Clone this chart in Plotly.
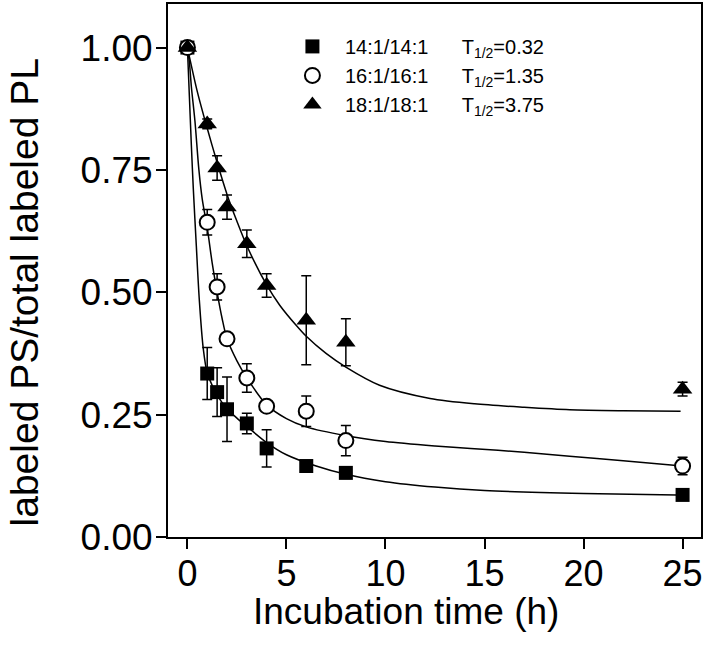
import plotly.graph_objects as go

time_h = [0, 1, 1.5, 2, 3, 4, 6, 8, 25]

ps_14 = [1.00, 0.334, 0.296, 0.261, 0.232, 0.181, 0.145, 0.131, 0.086]
err_14 = [0.0, 0.053, 0.050, 0.066, 0.021, 0.038, 0.006, 0.006, 0.006]

ps_16 = [1.00, 0.643, 0.511, 0.405, 0.325, 0.267, 0.257, 0.197, 0.145]
err_16 = [0.0, 0.026, 0.027, 0.010, 0.029, 0.008, 0.031, 0.031, 0.018]

ps_18 = [1.00, 0.844, 0.754, 0.674, 0.599, 0.514, 0.443, 0.398, 0.302]
err_18 = [0.0, 0.010, 0.025, 0.025, 0.028, 0.024, 0.091, 0.048, 0.014]

# ---- fitted curves ----
fit14_t = [0, 0.1, 0.2, 0.3, 0.45, 0.6, 0.8, 1.0, 1.25, 1.5, 2, 2.5, 3, 4, 5, 6.5, 8, 10, 12.5, 15, 20, 24.7]
fit14_y = [1.0, 0.90, 0.80, 0.71, 0.595, 0.485, 0.385, 0.335, 0.31, 0.29, 0.262, 0.243, 0.226, 0.193, 0.168, 0.145, 0.128, 0.113, 0.102, 0.095, 0.089, 0.086]

fit16_t = [0, 0.1, 0.2, 0.38, 0.58, 0.75, 1.0, 1.25, 1.5, 1.75, 2, 2.5, 3, 4, 5, 6, 8, 10, 12.5, 14.3, 17, 19.3, 22, 24.7]
fit16_y = [1.0, 0.97, 0.92, 0.85, 0.75, 0.69, 0.632, 0.56, 0.50, 0.447, 0.405, 0.36, 0.325, 0.27, 0.242, 0.225, 0.207, 0.195, 0.186, 0.181, 0.173, 0.165, 0.156, 0.146]

fit18_t = [0, 0.5, 1, 1.5, 2, 2.5, 3, 4, 4.67, 5.5, 6, 7, 8, 9.7, 12.25, 14.5, 17, 19.3, 22, 24.9]
fit18_y = [1.0, 0.91, 0.835, 0.765, 0.70, 0.645, 0.595, 0.515, 0.473, 0.432, 0.41, 0.375, 0.347, 0.31, 0.283, 0.272, 0.265, 0.26, 0.258, 0.257]

names = ["14:1/14:1", "16:1/16:1", "18:1/18:1"]
halflives = ["0.32", "1.35", "3.75"]
x_title = "Incubation time (h)"
y_title = "labeled PS/total labeled PL"

FONT = "Liberation Sans, Arial, sans-serif"
fig = go.Figure()

for t, y in [(fit14_t, fit14_y), (fit16_t, fit16_y), (fit18_t, fit18_y)]:
    fig.add_trace(go.Scatter(x=t, y=y, mode="lines", showlegend=False,
                             line=dict(color="black", width=1.5, shape="spline", smoothing=0.8),
                             hoverinfo="skip"))

nb = "\u00a0" * 6
series = [
    (ps_14, err_14, dict(symbol="square", size=14, color="black", line=dict(width=0))),
    (ps_16, err_16, dict(symbol="circle", size=15, color="white", line=dict(color="black", width=2))),
    (ps_18, err_18, dict(symbol="triangle-up", size=17, color="black", line=dict(width=0))),
]
for (vals, errs, mk), nm, hl in zip(series, names, halflives):
    fig.add_trace(go.Scatter(
        x=time_h, y=vals, mode="markers",
        name=f"{nm}{nb}T<sub>1/2</sub>={hl}",
        marker=mk,
        error_y=dict(type="data", array=errs, visible=True, color="black", thickness=1.5, width=5),
    ))

fig.update_layout(
    width=705, height=655,
    margin=dict(l=168, r=4, t=4, b=118, autoexpand=False),
    paper_bgcolor="white", plot_bgcolor="white",
    font=dict(family=FONT, color="black"),
    showlegend=True,
    legend=dict(x=0.21, y=0.957, xanchor="left", yanchor="top",
                bgcolor="rgba(0,0,0,0)", borderwidth=0,
                font=dict(size=20, family=FONT), itemwidth=55,
                tracegroupgap=0),
    xaxis=dict(range=[-0.98, 25.93], tickvals=[0, 5, 10, 15, 20, 25],
               ticks="outside", ticklen=10, tickwidth=2, tickcolor="black",
               showline=True, linecolor="black", linewidth=2, mirror=True,
               showgrid=False, zeroline=False, automargin=False,
               tickfont=dict(size=36, family=FONT), ticklabelstandoff=-6),
    yaxis=dict(range=[0, 1.089], tickvals=[0, 0.25, 0.5, 0.75, 1.0], tickformat=".2f",
               ticks="outside", ticklen=10, tickwidth=2, tickcolor="black",
               showline=True, linecolor="black", linewidth=2, mirror=True,
               showgrid=False, zeroline=False, automargin=False,
               tickfont=dict(size=37, family=FONT), ticklabelstandoff=-4),
    annotations=[
        dict(text=x_title, xref="paper", yref="paper", x=0.4465, y=-0.1407,
             xanchor="center", yanchor="middle", showarrow=False,
             font=dict(size=37, family=FONT)),
        dict(text=y_title, xref="paper", yref="paper", x=-0.270, y=0.459,
             xanchor="center", yanchor="middle", showarrow=False, textangle=-90,
             font=dict(size=39, family=FONT)),
    ],
)

fig.write_html("out.html", config={"displayModeBar": False},
               post_script="document.body.style.margin='0';")
